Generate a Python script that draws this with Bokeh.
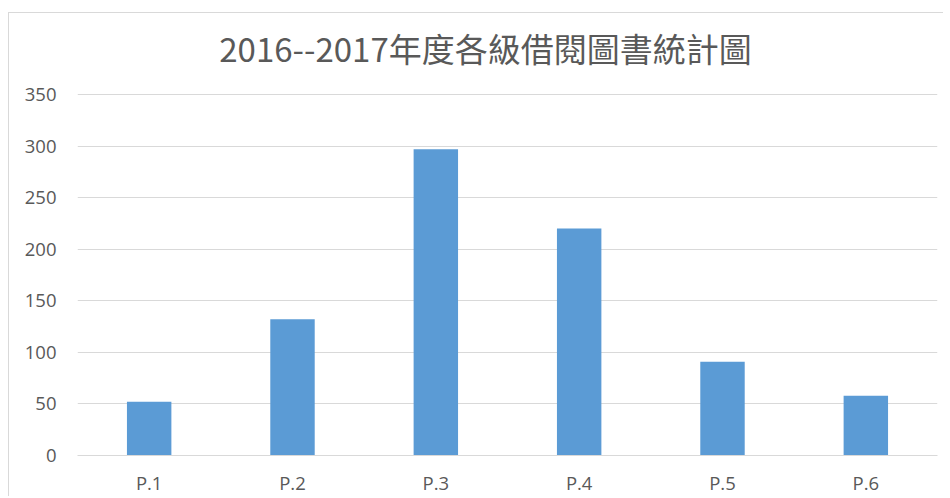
from bokeh.plotting import figure
from bokeh.models import ColumnDataSource, FixedTicker, Label
from bokeh.embed import file_html
from bokeh.resources import INLINE

title_text = "2016--2017年度各級借閱圖書統計圖"
categories = ["P.1", "P.2", "P.3", "P.4", "P.5", "P.6"]
books = [52, 132, 297, 220, 91, 58]
y_ticks = [0, 50, 100, 150, 200, 250, 300, 350]

src = ColumnDataSource(data=dict(cat=categories, val=books))

# frame extends to the top of the chart area so the title label sits inside it;
# the value axis stays 0..350 (gridlines only at the ticks)
p = figure(x_range=categories, y_range=(0, 428.5), width=935, height=484,
           output_backend="svg", toolbar_location=None,
           min_border_left=68, min_border_right=7, min_border_top=0, min_border_bottom=42)
p.styles = {"border-left": "1px solid #d9d9d9", "border-top": "1px solid #d9d9d9",
            "margin-top": "12px", "margin-left": "8px"}
p.outline_line_color = None
p.background_fill_color = "white"
p.border_fill_color = "white"

p.vbar(x="cat", top="val", width=0.31, source=src, fill_color="#5b9bd5", line_color=None)

p.xgrid.grid_line_color = None
p.ygrid.grid_line_color = "#d9d9d9"
p.ygrid.grid_line_width = 1
p.yaxis.ticker = FixedTicker(ticks=y_ticks)
p.yaxis.axis_line_color = None
p.yaxis.major_tick_line_color = None
p.yaxis.minor_tick_line_color = None
p.yaxis.major_tick_out = 0
p.yaxis.major_tick_in = 0
p.yaxis.minor_tick_out = 0
p.yaxis.major_label_standoff = 21
p.yaxis.major_label_text_font = "Open Sans"
p.yaxis.major_label_text_font_size = "18.5px"
p.yaxis.major_label_text_color = "#595959"

p.xaxis.axis_line_color = "#d9d9d9"
p.xaxis.major_tick_line_color = None
p.xaxis.minor_tick_line_color = None
p.xaxis.major_tick_out = 0
p.xaxis.major_tick_in = 0
p.xaxis.minor_tick_out = 0
p.xaxis.major_label_standoff = 14
p.xaxis.major_label_text_font = "Open Sans"
p.xaxis.major_label_text_font_size = "18.5px"
p.xaxis.major_label_text_color = "#595959"
p.x_range.range_padding = 0

p.add_layout(Label(x=408, y=407.5, x_units="screen", y_units="screen", text=title_text,
                   text_align="center", text_baseline="middle", text_font="Noto Sans CJK TC",
                   text_font_size="33px", text_color="#595959"))

open("out.html", "w").write(file_html(p, INLINE))
